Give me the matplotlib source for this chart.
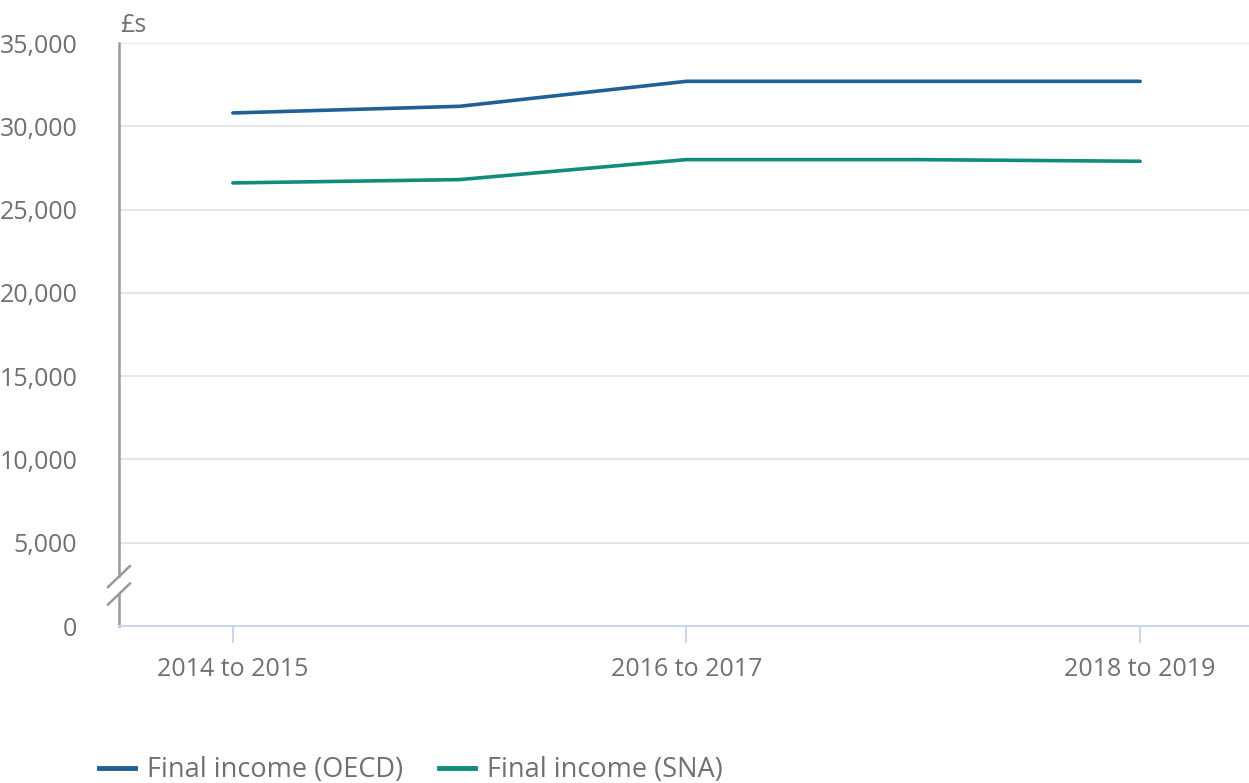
import matplotlib.pyplot as plt
from matplotlib.lines import Line2D

# Final income per household, £s
years = ["2014 to 2015", "2015 to 2016", "2016 to 2017", "2017 to 2018", "2018 to 2019"]
oecd = [30800, 31200, 32700, 32700, 32700]
sna = [26600, 26800, 28000, 28000, 27900]

blue = "#206095"
green = "#118c7b"
text_col = "#707070"
axis_col = "#999999"

plt.rcParams['font.family'] = ['Open Sans', 'DejaVu Sans']

fig = plt.figure(figsize=(12.49, 7.83), dpi=100)
ax = fig.add_axes([119 / 1249, 1 - 626 / 783, 1130 / 1249, 583 / 783])

x = list(range(len(years)))
ax.plot(x, oecd, color=blue, linewidth=2.6, solid_capstyle='round', zorder=3)
ax.plot(x, sna, color=green, linewidth=2.6, solid_capstyle='round', zorder=3)

ax.set_ylim(0, 35000)
ax.set_xlim(-0.502, 4.48)
ax.set_yticks(range(0, 35001, 5000))
ax.set_yticklabels(["0"] + [f"{v:,}" for v in range(5000, 35001, 5000)])
ax.set_xticks([0, 2, 4])
ax.set_xticklabels([years[0], years[2], years[4]])

# gridlines
for v in range(5000, 35001, 5000):
    ax.axhline(v, color="#e6e6e6", linewidth=1.5, zorder=1)

for s in ["top", "right"]:
    ax.spines[s].set_visible(False)
ax.spines["bottom"].set_color("#ccd6eb")
ax.spines["bottom"].set_linewidth(1.5)
ax.spines["left"].set_color(axis_col)
ax.spines["left"].set_linewidth(1.8)
ax.spines["left"].set_bounds(3000, 35000)

ax.tick_params(axis="y", length=0, pad=30, labelsize=18, labelcolor=text_col)
ax.tick_params(axis="x", length=12, width=1.5, color="#ccd6eb", pad=10,
               labelsize=18, labelcolor=text_col)

# axis break marks
yt = ax.get_yaxis_transform()
ax.plot([0, 0], [0, 1900], color=axis_col, linewidth=1.8, transform=yt, clip_on=False)
for yb in [2970, 1920]:
    ax.plot([-0.0097, 0.0097], [yb - 630, yb + 630], color=axis_col, linewidth=1.8,
            transform=yt, clip_on=False)

fig.text(120 / 1249, 1 - 25 / 783, "£s", fontsize=18, color=text_col, va="center", ha="left")

handles = [Line2D([], [], color=blue, linewidth=3.5),
           Line2D([], [], color=green, linewidth=3.5)]
fig.legend(handles, ["Final income (OECD)", "Final income (SNA)"], loc="center left",
           bbox_to_anchor=(75 / 1249, 1 - 770 / 783), ncol=2, frameon=False,
           fontsize=19.5, labelcolor=text_col, handlelength=1.3, handletextpad=0.45,
           columnspacing=1.35)

fig.savefig("out.png", dpi=100)
